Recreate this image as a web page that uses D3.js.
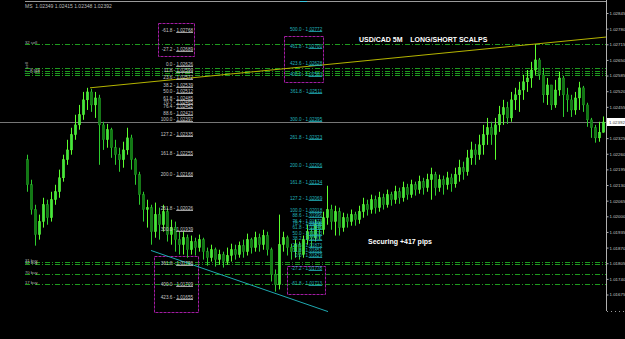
<!DOCTYPE html>
<html><head><meta charset="utf-8">
<script src="https://cdn.jsdelivr.net/npm/d3@7"></script>
<style>html,body{margin:0;padding:0;background:#000;overflow:hidden}svg{display:block}text{font-family:"Liberation Sans",Arial,sans-serif}</style>
</head><body><svg id="c" width="625" height="339"></svg>
<script>
// ---------- data ----------
const headerSymbol = "MS";
const lastOHLC = ["1.02349","1.02415","1.02348","1.02392"];
const currentPrice = 1.02392;
const firstOpen = 1.02235;
const closes = [1.02131,1.02028,1.01924,1.01978,1.02048,1.01994,1.02069,1.02102,1.02160,1.02235,
1.02276,1.02339,1.02380,1.02422,1.02484,1.02517,1.02463,1.02492,1.02380,1.02318,
1.02360,1.02285,1.02256,1.02235,1.02276,1.02326,1.02235,1.02173,1.02090,1.02028,
1.02036,1.01936,1.02007,1.01965,1.02019,1.01924,1.01953,1.01903,1.01882,1.01911,
1.01861,1.01895,1.01870,1.01903,1.01853,1.01828,1.01861,1.01820,1.01841,1.01812,
1.01837,1.01861,1.01841,1.01878,1.01853,1.01903,1.01870,1.01911,1.01882,1.01920,
1.01861,1.01758,1.01716,1.01882,1.01911,1.01870,1.01853,1.01882,1.01841,1.01903,
1.01936,1.01911,1.01965,1.01944,1.01994,1.02028,1.01978,1.02019,1.01953,1.01994,
1.01978,1.02007,1.01986,1.02019,1.02048,1.02028,1.02069,1.02036,1.02077,1.02048,
1.02090,1.02069,1.02102,1.02077,1.02119,1.02090,1.02131,1.02111,1.02144,1.02119,
1.02152,1.02173,1.02119,1.02152,1.02131,1.02160,1.02135,1.02173,1.02202,1.02185,
1.02243,1.02276,1.02256,1.02297,1.02339,1.02368,1.02339,1.02380,1.02422,1.02451,
1.02409,1.02484,1.02505,1.02525,1.02559,1.02575,1.02608,1.02650,1.02588,1.02505,
1.02546,1.02463,1.02525,1.02575,1.02505,1.02484,1.02442,1.02492,1.02534,1.02463,
1.02401,1.02368,1.02326,1.02349,1.02392];
const highs = [1.02256,1.02152,1.02048,1.02007,1.02077,1.02069,1.02102,1.02131,1.02194,1.02256,
1.02318,1.02368,1.02422,1.02463,1.02517,1.02534,1.02530,1.02517,1.02505,1.02393,
1.02384,1.02368,1.02318,1.02285,1.02310,1.02368,1.02339,1.02243,1.02185,1.02102,
1.02069,1.02048,1.02057,1.02036,1.02048,1.02036,1.01986,1.01978,1.01936,1.01936,
1.01924,1.01920,1.01911,1.01924,1.01911,1.01870,1.01882,1.01870,1.01861,1.01853,
1.01870,1.01886,1.01882,1.01895,1.01903,1.01928,1.01911,1.01936,1.01928,1.01944,
1.01936,1.01870,1.01779,1.02007,1.01936,1.01920,1.01886,1.01903,1.01895,1.01920,
1.01965,1.01953,1.01986,1.01978,1.02019,1.02127,1.02048,1.02044,1.02036,1.02015,
1.02011,1.02028,1.02019,1.02044,1.02077,1.02069,1.02090,1.02086,1.02102,1.02094,
1.02111,1.02102,1.02127,1.02119,1.02144,1.02135,1.02152,1.02144,1.02169,1.02160,
1.02177,1.02202,1.02185,1.02173,1.02169,1.02185,1.02177,1.02202,1.02235,1.02227,
1.02276,1.02310,1.02301,1.02339,1.02380,1.02409,1.02393,1.02409,1.02459,1.02484,
1.02476,1.02517,1.02534,1.02559,1.02588,1.02608,1.02642,1.02716,1.02658,1.02617,
1.02575,1.02542,1.02567,1.02600,1.02584,1.02534,1.02505,1.02517,1.02559,1.02542,
1.02472,1.02409,1.02380,1.02393,1.02415];
const lows = [1.02102,1.02007,1.01878,1.01903,1.01953,1.01965,1.01978,1.02048,1.02077,1.02144,
1.02214,1.02256,1.02318,1.02360,1.02401,1.02442,1.02434,1.02409,1.02214,1.02276,
1.02285,1.02243,1.02214,1.02185,1.02202,1.02256,1.02194,1.02131,1.02048,1.01978,
1.01953,1.01882,1.01911,1.01903,1.01936,1.01895,1.01882,1.01853,1.01841,1.01841,
1.01828,1.01841,1.01837,1.01853,1.01820,1.01795,1.01812,1.01791,1.01799,1.01787,
1.01799,1.01812,1.01820,1.01828,1.01828,1.01837,1.01845,1.01853,1.01853,1.01861,
1.01837,1.01729,1.01687,1.01696,1.01853,1.01837,1.01820,1.01828,1.01820,1.01828,
1.01882,1.01870,1.01895,1.01903,1.01924,1.01965,1.01944,1.01920,1.01920,1.01936,
1.01953,1.01961,1.01961,1.01969,1.01994,1.02003,1.02011,1.02011,1.02019,1.02028,
1.02036,1.02044,1.02052,1.02052,1.02061,1.02069,1.02077,1.02086,1.02094,1.02090,
1.02102,1.02069,1.02086,1.02102,1.02090,1.02111,1.02102,1.02119,1.02144,1.02152,
1.02169,1.02214,1.02214,1.02235,1.02256,1.02297,1.02297,1.02235,1.02351,1.02380,
1.02384,1.02393,1.02442,1.02434,1.02484,1.02517,1.02534,1.02588,1.02567,1.02472,
1.02463,1.02442,1.02451,1.02501,1.02413,1.02434,1.02413,1.02422,1.02442,1.02434,
1.02372,1.02326,1.02306,1.02310,1.02348];
const axisTicks = ["1.02845","1.02780","1.02715","1.02650","1.02585","1.02520","1.02455","1.02390",
"1.02325","1.02260","1.02195","1.02130","1.02065","1.02000","1.01935","1.01870","1.01805","1.01740","1.01675"];
const sellLabels = ["32 sell","17 sell","9 sell","6 sell",""];
const sellPrices = [1.02716,1.02616,1.02606,1.02597,1.02587];
const buyLabels = ["31 buy","12 buy","70 buy","17 buy"];
const buyPrices = [1.01811,1.01801,1.01761,1.01719];
const fibALevels = ["-61.8","-27.2","0.0","11.8","23.6","38.2","50.0","61.8","70.7","76.4","88.6","100.0","127.2","161.8","200.0","261.8","300.0","361.8","400.0","423.6"];
const fibAPrices = ["1.02768","1.02689","1.02626","1.02599","1.02572","1.02539","1.02512","1.02485","1.02465","1.02452","1.02423","1.02397","1.02335","1.02255","1.02168","1.02026","1.01939","1.01796","1.01709","1.01655"];
const fibBLevels = ["500.0","461.8","423.6","400.0","361.8","300.0","261.8","200.0","161.8","127.2","100.0","88.6","76.4","70.7","61.8","50.0","38.2","23.6","11.8","0.0","-27.2","-61.8"];
const fibBPrices = ["1.02772","1.02700","1.02628","1.02583","1.02511","1.02395","1.02323","1.02206","1.02134","1.02069","1.02018","1.01996","1.01973","1.01963","1.01946","1.01923","1.01901","1.01873","1.01851","1.01829","1.01778","1.01713"];
// zones: [bar index from, bar index to] and [price top, price bottom]
const zoneBars = [[32.8,41.8],[31.8,42.8],[64.3,74.0],[65.0,74.5]];
const zonePrices = [[1.02803,1.02666],[1.01833,1.01600],[1.02749,1.02558],[1.01792,1.01675]];
// trend lines: [bar, price] pairs
const upTrend = [[15.75,1.02534],[144.75,1.02745]];
const downTrend = [[31.0,1.01858],[75.25,1.01604]];
const titleText = "USD/CAD 5M    LONG/SHORT SCALPS";
const noteText = "Securing +417 pips";

// ---------- drawing ----------
const svg = d3.select("#c");
svg.append("rect").attr("width",625).attr("height",339).attr("fill","#000");
const x = d3.scaleLinear().domain([0, closes.length-1]).range([27, 603]);
const y = d3.scaleLinear().domain([1.01675, 1.02845]).range([294.5, 13]);
const plotR = 606;

// top border
svg.append("line").attr("x1",25).attr("x2",plotR).attr("y1",1.5).attr("y2",1.5).attr("stroke","#9a9a9a");
svg.append("line").attr("x1",300).attr("x2",307).attr("y1",1.5).attr("y2",1.5).attr("stroke","#3cc8e0");
svg.append("text").attr("x",25).attr("y",8).attr("font-size",5).attr("fill","#bdbdbd")
  .attr("xml:space","preserve").text(headerSymbol+"  "+lastOHLC.join(" "));

// current price line
svg.append("line").attr("x1",0).attr("x2",plotR).attr("y1",Math.round(y(currentPrice))+0.5).attr("y2",Math.round(y(currentPrice))+0.5)
  .attr("stroke","#767676");

// sell / buy dash-dot levels
const lvl = svg.append("g");
function levels(prices, labels, rotateFirstCluster){
  prices.forEach((p,i)=>{
    const yy = Math.round(y(p))+0.5;
    lvl.append("line").attr("x1",25).attr("x2",plotR).attr("y1",yy).attr("y2",yy)
      .attr("stroke","#1f9a1f").attr("stroke-dasharray","5,2,1,2");
    if(!labels[i]) return;
    if(rotateFirstCluster && i===1){
      lvl.append("text").attr("transform",`translate(28,${yy+6}) rotate(-90)`).attr("font-size",4.2)
        .attr("fill","#b8b8b8").text(labels[i]);
    } else {
      lvl.append("text").attr("x", rotateFirstCluster && i>1 ? 30 : 25).attr("y",yy-0.8)
        .attr("font-size",4.2).attr("fill","#b8b8b8").text(labels[i]);
    }
  });
}
levels(sellPrices, sellLabels, true);
levels(buyPrices, buyLabels, false);

// zones
zoneBars.forEach((b,i)=>{
  const x0 = x(b[0]), x1 = x(b[1]), y0 = y(zonePrices[i][0]), y1 = y(zonePrices[i][1]);
  svg.append("rect").attr("x",Math.round(x0)+0.5).attr("y",Math.round(y0)+0.5)
    .attr("width",Math.round(x1-x0)).attr("height",Math.round(y1-y0))
    .attr("fill","none").attr("stroke","#a21ca2").attr("stroke-dasharray","3,1");
});

// candles
const cg = svg.append("g");
closes.forEach((c,i)=>{
  const o = i===0 ? firstOpen : closes[i-1];
  const hi = Math.max(highs[i],o,c), lo = Math.min(lows[i],o,c);
  const cx = Math.round(x(i))+0.5;
  const up = c >= o;
  cg.append("line").attr("x1",cx).attr("x2",cx).attr("y1",y(hi)).attr("y2",y(lo))
    .attr("stroke", up ? "#5cff2e" : "#2ecc2e").attr("stroke-width",1);
  const top = y(Math.max(o,c)), bot = y(Math.min(o,c));
  cg.append("rect").attr("x",cx-1.2).attr("y",top).attr("width",2.4).attr("height",Math.max(1,bot-top))
    .attr("fill", up ? "#3ee83e" : "#0f7a12").attr("stroke", up ? "#6dff3a" : "#2aa82a").attr("stroke-width",0.4);
});

// trend lines
svg.append("line").attr("x1",x(upTrend[0][0])).attr("y1",y(upTrend[0][1]))
  .attr("x2",x(upTrend[1][0])).attr("y2",y(upTrend[1][1])).attr("stroke","#b4b400").attr("stroke-width",1);
svg.append("line").attr("x1",x(downTrend[0][0])).attr("y1",y(downTrend[0][1]))
  .attr("x2",x(downTrend[1][0])).attr("y2",y(downTrend[1][1])).attr("stroke","#1ea8b0").attr("stroke-width",1);

// fibonacci labels
function fib(levelsArr, pricesArr, endBar, lineFromBar, color){
  const g = svg.append("g");
  const xe = x(endBar), xs = x(lineFromBar);
  levelsArr.forEach((l,i)=>{
    const yy = y(+pricesArr[i]);
    g.append("line").attr("x1",xs).attr("x2",xe).attr("y1",Math.round(yy)+0.5).attr("y2",Math.round(yy)+0.5)
      .attr("stroke",color).attr("stroke-width",0.8);
    g.append("text").attr("x",xe).attr("y",Math.round(yy)-0.5).attr("text-anchor","end")
      .attr("font-size",4.6).attr("fill",color).text(l+" - "+pricesArr[i]);
  });
}
fib(fibALevels, fibAPrices, 41.5, 37.3, "#c8c8c8");
fib(fibBLevels, fibBPrices, 73.8, 70.4, "#22b4bc");

// texts
svg.append("text").attr("x",359).attr("y",42).attr("font-size",7).attr("font-weight","bold")
  .attr("fill","#ffffff").attr("xml:space","preserve").style("white-space","pre").text(titleText);
svg.append("text").attr("x",368).attr("y",244).attr("font-size",7).attr("font-weight","bold")
  .attr("fill","#ffffff").text(noteText);

// right axis
const axis = d3.axisRight(y).tickValues(axisTicks.map(Number)).tickSize(2).tickPadding(1)
  .tickFormat((d,i)=>axisTicks[i]);
const ag = svg.append("g").attr("transform",`translate(${plotR+0.5},0)`).call(axis);
ag.select(".domain").remove();
ag.selectAll("line").attr("stroke","#b0b0b0");
ag.selectAll("text").attr("font-size",4.4).attr("fill","#c8c8c8").attr("font-family","Liberation Sans, Arial");
svg.append("line").attr("x1",plotR+0.5).attr("x2",plotR+0.5).attr("y1",0).attr("y2",311).attr("stroke","#b0b0b0");
svg.append("line").attr("x1",607).attr("x2",625).attr("y1",311.5).attr("y2",311.5).attr("stroke","#9a9a9a").attr("stroke-dasharray","1,3");
// current price marker
const cpY = y(currentPrice);
svg.append("rect").attr("x",plotR+1).attr("y",cpY-4).attr("width",19).attr("height",8).attr("fill","#ffffff");
svg.append("text").attr("x",plotR+3).attr("y",cpY+1.8).attr("font-size",4.4).attr("fill","#404040").text(currentPrice.toFixed(5));
</script></body></html>
